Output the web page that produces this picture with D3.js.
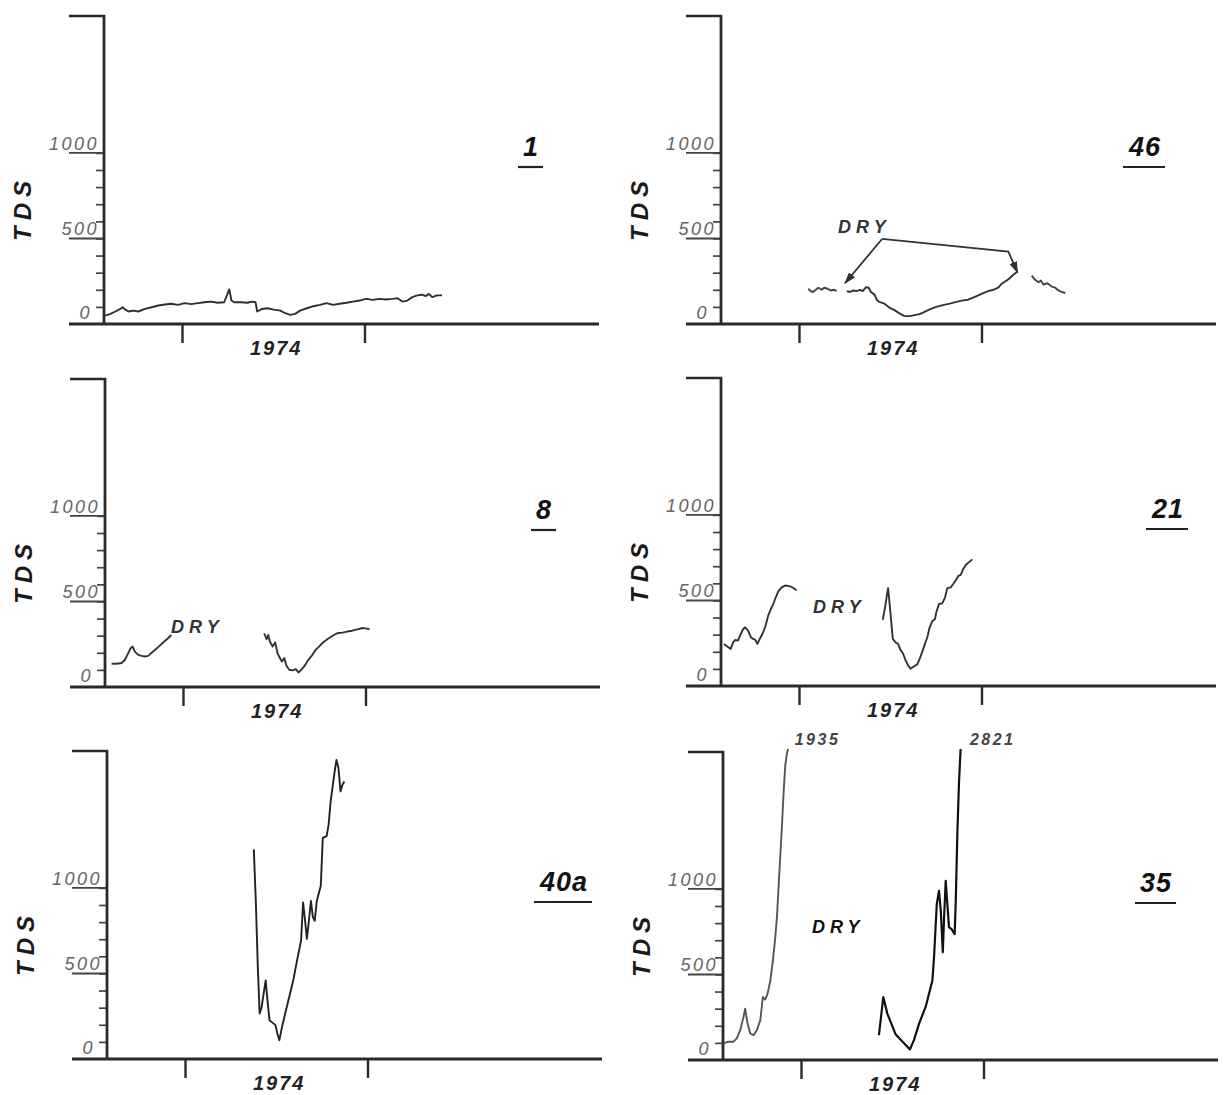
<!DOCTYPE html>
<html><head><meta charset="utf-8">
<script src="https://cdn.jsdelivr.net/npm/d3@7"></script>
<style>
html,body{margin:0;padding:0;background:#fff;}
svg{display:block;}
</style></head><body>
<svg id="chart" width="1225" height="1095"></svg>
<script>
// ---------------- data (TDS vs. time, null = DRY gap) ----------------
const panelIds = ["1", "46", "8", "21", "40a", "35"];
const yearTicks = [1974, 1975];
const yearLabel = "1974";
const yMinorTicks = [100, 200, 300, 400, 500, 600, 700, 800, 900, 1000];
const yLabelTicks = [0, 500, 1000];
const yMax = 1800;
const axisTitle = "TDS";
const dryText = "DRY";

const p1Time = [1973.580,1973.608,1973.635,1973.662,1973.675,1973.689,1973.707,1973.734,1973.761,1973.797,
  1973.834,1973.870,1973.906,1973.942,1973.978,1974.014,1974.051,1974.087,1974.123,1974.159,
  1974.195,1974.231,1974.246,1974.259,1974.271,1974.286,1974.322,1974.358,1974.385,1974.403,
  1974.412,1974.439,1974.467,1974.503,1974.539,1974.566,1974.593,1974.620,1974.647,1974.684,
  1974.720,1974.756,1974.792,1974.828,1974.864,1974.901,1974.937,1974.973,1975.009,1975.045,
  1975.081,1975.118,1975.154,1975.181,1975.208,1975.235,1975.262,1975.289,1975.316,1975.335,
  1975.353,1975.371,1975.398,1975.425];
const p1TDS = [49,59,73,88,98,84,73,78,73,88, 98,108,114,118,112,122,116,122,127,131,
  124,127,167,202,137,127,127,124,131,127, 73,88,92,84,78,63,53,59,78,92,
  104,112,122,112,118,124,131,137,147,141, 147,143,147,151,131,137,157,167,171,163,
  176,157,167,167];

const p46Time = [1974.051,1974.064,1974.077,1974.092,1974.106,1974.125,1974.138,1974.156,1974.174,1974.193,1974.206,
  1974.234,
  1974.262,1974.279,1974.297,1974.316,1974.334,1974.349,1974.367,1974.382,1974.394,1974.413,
  1974.426,1974.440,1974.468,1974.495,1974.523,1974.550,1974.578,1974.606,1974.633,1974.661,
  1974.688,1974.716,1974.752,1974.789,1974.826,1974.862,1974.899,1974.927,1974.954,1974.982,
  1975.009,1975.037,1975.064,1975.092,1975.110,1975.138,1975.156,1975.174,1975.193,
  1975.234,
  1975.275,1975.294,1975.312,1975.325,1975.339,1975.361,1975.385,1975.404,1975.422,1975.440,1975.459];
const p46TDS = [206,192,187,200,212,200,212,206,196,200,192,
  null,
  192,187,196,192,200,192,215,212,187,173, 142,129,119,96,81,62,46,46,52,58,
  71,85,100,110,119,129,138,142,154,167, 181,192,200,212,235,254,269,288,302,
  null,
  283,258,244,254,231,238,219,212,196,187,181];

const p8Time = [1973.609,1973.636,1973.664,1973.682,1973.700,1973.713,1973.724,1973.736,1973.755,1973.773,
  1973.791,1973.809,1973.836,1973.864,1973.891,1973.918,1973.936,
  1974.200,
  1974.445,1974.458,1974.467,1974.476,1974.491,1974.505,1974.518,1974.531,1974.542,1974.555,
  1974.567,1974.582,1974.600,1974.618,1974.633,1974.645,1974.664,1974.687,1974.709,1974.727,
  1974.745,1974.767,1974.791,1974.818,1974.845,1974.873,1974.900,1974.927,1974.955,1974.982,
  1975.009,1975.022];
const p8TDS = [136,136,140,159,198,227,236,207,188,182, 178,182,207,233,260,285,304,
  null,
  314,279,304,266,236,260,198,169,149,169, 124,101,97,105,85,97,120,159,188,217,
  236,260,279,298,314,318,324,329,337,345, 341,337];

const p21Time = [1973.589,1973.607,1973.626,1973.639,1973.651,1973.666,1973.681,1973.694,1973.705,1973.721,
  1973.736,1973.749,1973.761,1973.772,1973.785,1973.804,1973.817,1973.831,1973.846,1973.859,
  1973.872,1973.886,1973.905,1973.923,1973.941,1973.960,1973.987,
  1974.200,
  1974.459,1974.473,1974.488,1974.495,1974.505,1974.514,1974.528,1974.543,1974.556,1974.571,
  1974.583,1974.598,1974.611,1974.629,1974.648,1974.661,1974.675,1974.690,1974.703,1974.716,
  1974.730,1974.745,1974.752,1974.767,1974.785,1974.800,1974.813,1974.831,1974.844,1974.859,
  1974.873,1974.886,1974.899,1974.914,1974.928,1974.950];
const p21TDS = [246,231,217,256,269,266,304,333,343,324, 285,275,269,246,275,314,353,411,450,479,
  517,552,576,587,585,579,560,
  null,
  386,469,572,498,382,275,256,246,211,188, 153,120,101,114,126,159,198,246,285,343,
  378,391,430,479,483,517,572,576,595,618, 643,649,682,707,721,740];

const p40aTime = [1974.377,1974.388,1974.399,1974.409,1974.420,1974.431,1974.442,1974.452,1974.463,1974.474,
  1974.496,1974.506,1974.517,1974.528,1974.549,1974.571,1974.593,1974.614,1974.636,1974.647,
  1974.658,1974.668,1974.679,1974.690,1974.701,1974.711,1974.722,1974.744,1974.755,1974.776,
  1974.787,1974.798,1974.820,1974.830,1974.841,1974.852,1974.863,1974.873];
const p40aTDS = [1225,924,537,266,304,382,459,343,227,217, 198,149,110,169,266,362,459,576,692,915,
  808,702,808,924,828,808,924,1012,1292,1302, 1370,1506,1680,1748,1700,1564,1603,1622];

const p35Time = [1973.575,1973.603,1973.630,1973.648,1973.667,1973.685,1973.694,1973.707,1973.722,1973.740,
  1973.758,1973.777,1973.791,1973.804,1973.817,1973.832,1973.846,1973.859,1973.868,1973.877,
  1973.886,1973.896,1973.905,1973.914,1973.923,1973.960,
  1974.200,
  1974.427,1974.451,1974.473,1974.518,1974.597,1974.619,1974.647,1974.683,1974.720,1974.729,
  1974.744,1974.756,1974.766,1974.777,1974.784,1974.793,1974.802,1974.811,1974.824,1974.842,
  1974.848,1974.857,1974.866,1974.920];
const p35TDS = [97,107,107,126,174,252,300,213,155,145, 174,233,368,353,388,465,581,717,833,1008,
  1182,1376,1570,1725,1793,1935,
  null,
  145,368,271,151,62,116,213,310,465,601, 911,988,872,630,833,1047,911,775,766,736,
  930,1337,1628,2821];

// DRY annotations (anchor in data units) and arrows (panel 46)
const dryPanels = ["46", "8", "21", "35"];
const dryTime = [1974.214, 1973.934, 1974.077, 1974.060];
const dryTDS = [532, 316, 427, 743];
const arrowTargets = [
  [{t: 1974.455, v: 497}, {t: 1974.252, v: 238}],
  [{t: 1974.455, v: 497}, {t: 1975.147, v: 423}, {t: 1975.198, v: 300}]
];

// ---------------- layout (positions / styles only) ----------------
const layout = [
  {id: "1",   time: p1Time,   tds: p1TDS,   ax: 104, by: 324, numDx: 427, stroke: ["#2e2e2e"]},
  {id: "46",  time: p46Time,  tds: p46TDS,  ax: 721, by: 324, numDx: 424, stroke: ["#444","#333","#444"]},
  {id: "8",   time: p8Time,   tds: p8TDS,   ax: 105, by: 687, numDx: 439, stroke: ["#333","#333"]},
  {id: "21",  time: p21Time,  tds: p21TDS,  ax: 721, by: 686, numDx: 447, stroke: ["#333","#333"]},
  {id: "40a", time: p40aTime, tds: p40aTDS, ax: 107, by: 1059, numDx: 457, stroke: ["#222"]},
  {id: "35",  time: p35Time,  tds: p35TDS,  ax: 723, by: 1060, numDx: 433, stroke: ["#555","#111"]}
];

const FONT = "'Liberation Sans', Arial, Helvetica, sans-serif";
const svg = d3.select("#chart");
const defs = svg.append("defs");
defs.append("marker").attr("id", "arrowhead")
  .attr("viewBox", "0 0 12 8").attr("refX", 11).attr("refY", 4)
  .attr("markerWidth", 12).attr("markerHeight", 8)
  .attr("markerUnits", "userSpaceOnUse").attr("orient", "auto")
  .append("path").attr("d", "M0,0 L12,4 L0,8 z").attr("fill", "#333");

const AXIS = "#2a2a2a";

layout.forEach((p, i) => {
  const g = svg.append("g");
  const x = d3.scaleLinear().domain(yearTicks).range([p.ax + 78, p.ax + 78 + 182.5]);
  const y = d3.scaleLinear().domain([0, yMax]).range([p.by, p.by - 308]);
  const xStart = x.invert(p.ax - 35), xEnd = x.invert(p.ax + 495);

  defs.append("clipPath").attr("id", "clip" + i).append("rect")
    .attr("x", p.ax).attr("y", y(yMax) - 3)
    .attr("width", 500).attr("height", p.by - y(yMax) + 3);

  // y-axis minor ticks via d3 axis
  const yAxis = d3.axisLeft(y).tickValues(yMinorTicks).tickSize(8).tickFormat("");
  const ya = g.append("g").attr("transform", `translate(${p.ax},0)`).call(yAxis);
  ya.select(".domain").remove();
  ya.selectAll(".tick line").attr("stroke", "#444").attr("stroke-width", 1.7);

  // long ticks at 500 / 1000 and the top cap
  [500, 1000].forEach(v => {
    g.append("line").attr("x1", p.ax - 35).attr("x2", p.ax)
      .attr("y1", y(v)).attr("y2", y(v))
      .attr("stroke", "#444").attr("stroke-width", 1.9);
  });
  g.append("line").attr("x1", p.ax - 35).attr("x2", p.ax + 1)
    .attr("y1", y(yMax)).attr("y2", y(yMax))
    .attr("stroke", AXIS).attr("stroke-width", 2.6);

  // axis lines
  g.append("line").attr("x1", p.ax).attr("x2", p.ax)
    .attr("y1", y(yMax) - 1).attr("y2", p.by + 1)
    .attr("stroke", AXIS).attr("stroke-width", 2.8);
  g.append("line").attr("x1", x(xStart)).attr("x2", x(xEnd))
    .attr("y1", p.by).attr("y2", p.by)
    .attr("stroke", AXIS).attr("stroke-width", 2.8);

  // year ticks (below axis)
  const xAxis = d3.axisBottom(x).tickValues(yearTicks).tickSize(19).tickFormat("");
  const xa = g.append("g").attr("transform", `translate(0,${p.by})`).call(xAxis);
  xa.select(".domain").remove();
  xa.selectAll(".tick line").attr("stroke", AXIS).attr("stroke-width", 2.4);

  g.append("text").attr("x", x(1974.5) + 3).attr("y", p.by + 31)
    .attr("text-anchor", "middle")
    .style("font", `italic bold 20px ${FONT}`).style("letter-spacing", "2px")
    .attr("fill", "#222").text(yearLabel);

  // y labels
  yLabelTicks.forEach(v => {
    const yy = v === 0 ? p.by - 5 : y(v) - 3;
    const xx = v === 0 ? p.ax - 12 : p.ax - 5;
    g.append("text").attr("x", xx).attr("y", yy).attr("text-anchor", "end")
      .style("font", `italic 18px ${FONT}`).style("letter-spacing", "2.5px")
      .attr("fill", "#666").text(v);
  });

  // TDS axis title
  g.append("text")
    .attr("transform", `translate(${p.ax - 73},${p.by - 113}) rotate(-90)`)
    .attr("text-anchor", "middle").attr("x", 3)
    .style("font", `italic bold 24px ${FONT}`).style("letter-spacing", "6px")
    .attr("fill", "#1a1a1a").text(axisTitle);

  // panel number with underline
  const num = g.append("text").attr("x", p.ax + p.numDx).attr("y", p.by - 168)
    .attr("text-anchor", "middle")
    .style("font", `italic bold 27px ${FONT}`).style("letter-spacing", "1px")
    .attr("fill", "#111").text(p.id);
  const bb = num.node().getBBox();
  g.append("line").attr("x1", bb.x - 5).attr("x2", bb.x + bb.width + 4)
    .attr("y1", p.by - 157).attr("y2", p.by - 157)
    .attr("stroke", "#222").attr("stroke-width", 2.2);

  // data line split into segments at nulls
  const pts = p.time.map((t, k) => ({t, v: p.tds[k]}));
  const segs = [];
  let cur = [];
  pts.forEach(d => {
    if (d.v === null) { if (cur.length) segs.push(cur); cur = []; }
    else cur.push(d);
  });
  if (cur.length) segs.push(cur);

  const line = d3.line().x(d => x(d.t)).y(d => y(d.v));
  const dg = g.append("g").attr("clip-path", `url(#clip${i})`);
  segs.forEach((s, k) => {
    const col = p.stroke[k % p.stroke.length];
    dg.append("path").attr("d", line(s)).attr("fill", "none")
      .attr("stroke", col)
      .attr("stroke-width", col === "#111" ? 2.2 : 1.9)
      .attr("stroke-linejoin", "round");
    // off-scale peak labels
    const top = d3.greatest(s, d => d.v);
    if (top.v > yMax) {
      g.append("text").attr("x", x(top.t) + 1).attr("y", y(yMax) - 7)
        .style("font", `italic bold 16px ${FONT}`).style("letter-spacing", "2.5px")
        .attr("fill", "#444").text(top.v);
    }
  });

  // DRY annotation
  const di = dryPanels.indexOf(p.id);
  if (di >= 0) {
    g.append("text").attr("x", x(dryTime[di])).attr("y", y(dryTDS[di]))
      .style("font", `italic bold 18px ${FONT}`).style("letter-spacing", "5px")
      .attr("fill", p.id === "35" ? "#111" : "#333").text(dryText);
  }
  if (p.id === "46") {
    const aline = d3.line().x(d => x(d.t)).y(d => y(d.v));
    arrowTargets.forEach(path => {
      g.append("path").attr("d", aline(path)).attr("fill", "none")
        .attr("stroke", "#333").attr("stroke-width", 1.8)
        .attr("marker-end", "url(#arrowhead)");
    });
  }
});
</script>
</body></html>
